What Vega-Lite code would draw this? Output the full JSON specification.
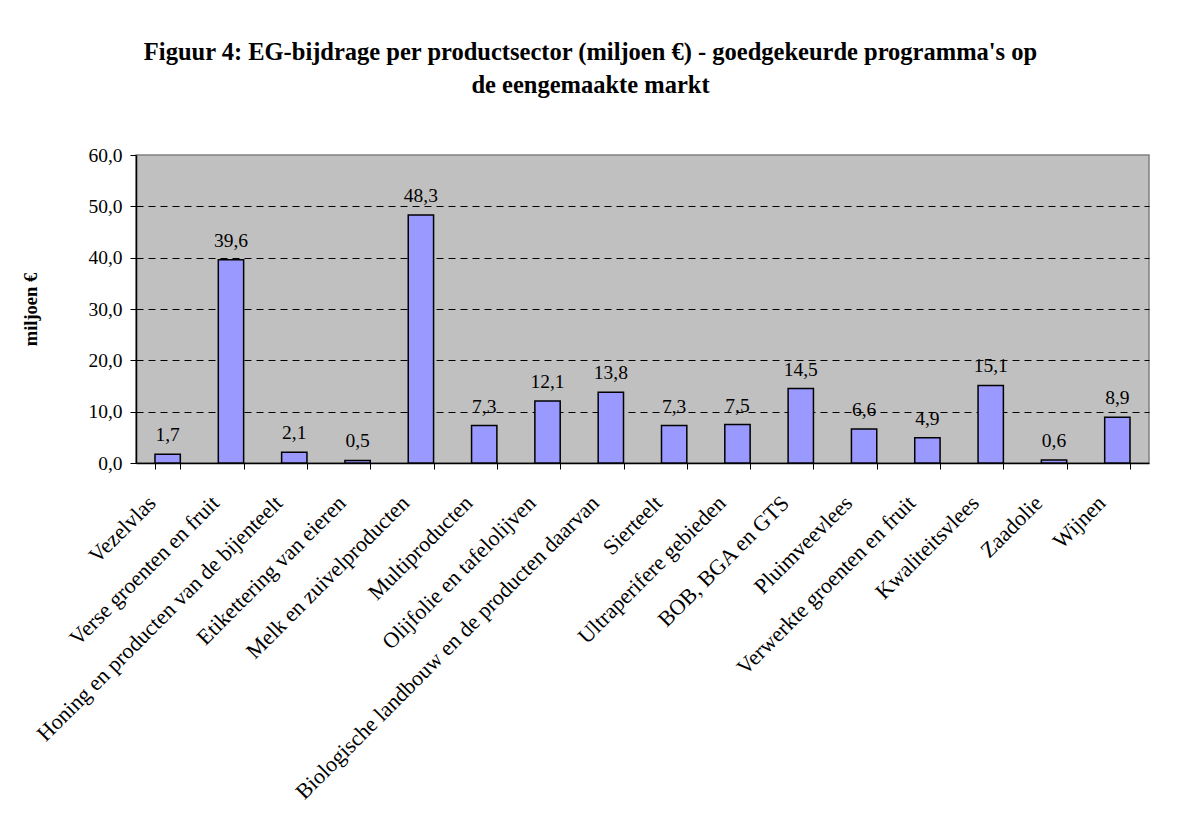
{
  "$schema": "https://vega.github.io/schema/vega-lite/v6.json",
  "autosize": "none",
  "width": 1013,
  "height": 308,
  "padding": {"left": 136, "top": 155, "right": 39, "bottom": 353},
  "background": "white",
  "title": {
    "text": ["Figuur 4: EG-bijdrage per productsector (miljoen €) - goedgekeurde programma's op", "de eengemaakte markt"],
    "font": "Liberation Serif",
    "fontSize": 24.5,
    "fontWeight": "bold",
    "color": "black",
    "anchor": "middle",
    "lineHeight": 33,
    "offset": 47,
    "dx": -52
  },
  "config": {
    "locale": {"number": {"decimal": ",", "thousands": ".", "grouping": [3], "currency": ["€", ""]}},
    "view": {"fill": "#C0C0C0", "stroke": "#808080", "strokeWidth": 1.5},
    "font": "Liberation Serif"
  },
  "data": {
    "values": [
      {"sector": "Vezelvlas", "waarde": 1.7},
      {"sector": "Verse groenten en fruit", "waarde": 39.6},
      {"sector": "Honing en producten van de bijenteelt", "waarde": 2.1},
      {"sector": "Etikettering van eieren", "waarde": 0.5},
      {"sector": "Melk en zuivelproducten", "waarde": 48.3},
      {"sector": "Multiproducten", "waarde": 7.3},
      {"sector": "Olijfolie en tafelolijven", "waarde": 12.1},
      {"sector": "Biologische landbouw en de producten daarvan", "waarde": 13.8},
      {"sector": "Sierteelt", "waarde": 7.3},
      {"sector": "Ultraperifere gebieden", "waarde": 7.5},
      {"sector": "BOB, BGA en GTS", "waarde": 14.5},
      {"sector": "Pluimveevlees", "waarde": 6.6},
      {"sector": "Verwerkte groenten en fruit", "waarde": 4.9},
      {"sector": "Kwaliteitsvlees", "waarde": 15.1},
      {"sector": "Zaadolie", "waarde": 0.6},
      {"sector": "Wijnen", "waarde": 8.9}
    ]
  },
  "encoding": {
    "x": {
      "field": "sector",
      "type": "nominal",
      "sort": null,
      "scale": {"paddingInner": 0.6, "paddingOuter": 0.3},
      "axis": {
        "title": null,
        "labelAngle": -45,
        "labelFont": "Liberation Serif",
        "labelFontSize": 22,
        "labelColor": "black",
        "labelLimit": 0,
        "labelPadding": 23,
        "labelOffset": -23,
        "domainColor": "black",
        "domainWidth": 1.5,
        "tickColor": "black",
        "tickSize": 6,
        "tickBand": "extent",
        "grid": false
      }
    },
    "y": {
      "field": "waarde",
      "type": "quantitative",
      "scale": {"domain": [0, 60], "nice": false},
      "axis": {
        "title": "miljoen €",
        "titleFont": "Liberation Serif",
        "titleFontSize": 18.5,
        "titleFontWeight": "bold",
        "titleColor": "black",
        "titleX": -106,
        "titleY": 154,
        "titleAngle": -90,
        "titleAlign": "center",
        "titleBaseline": "middle",
        "values": [0, 10, 20, 30, 40, 50, 60],
        "format": ".1f",
        "labelFont": "Liberation Serif",
        "labelFontSize": 19.5,
        "labelColor": "black",
        "labelPadding": 8,
        "domainColor": "black",
        "domainWidth": 1.5,
        "tickColor": "black",
        "tickSize": 6,
        "grid": true,
        "gridColor": "black",
        "gridDash": [7, 5],
        "gridWidth": 1,
        "gridOpacity": {"condition": {"test": "datum.value == 0 || datum.value == 60", "value": 0}, "value": 1}
      }
    }
  },
  "layer": [
    {
      "mark": {"type": "bar", "fill": "#9999FF", "stroke": "black", "strokeWidth": 1.5}
    },
    {
      "mark": {"type": "text", "baseline": "alphabetic", "dy": -13, "fontSize": 19.5, "font": "Liberation Serif", "color": "black"},
      "encoding": {
        "text": {"field": "waarde", "type": "quantitative", "format": ".1f"}
      }
    }
  ]
}
